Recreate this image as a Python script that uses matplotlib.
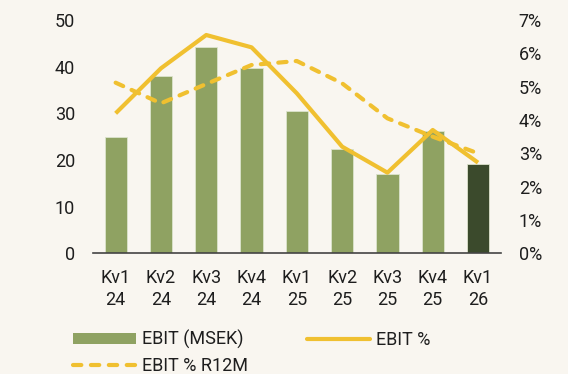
import matplotlib.pyplot as plt
from matplotlib.lines import Line2D
from matplotlib.patches import Patch

plt.rcParams['font.family'] = ['Roboto', 'DejaVu Sans']

quarters = ["Kv1\n24", "Kv2\n24", "Kv3\n24", "Kv4\n24", "Kv1\n25",
            "Kv2\n25", "Kv3\n25", "Kv4\n25", "Kv1\n26"]
ebit_msek = [25.0, 38.1, 44.3, 39.8, 30.5, 22.4, 17.1, 26.3, 19.2]
ebit_pct = [4.2, 5.55, 6.55, 6.18, 4.8, 3.2, 2.42, 3.7, 2.72]
ebit_pct_r12m = [5.12, 4.5, 5.08, 5.65, 5.77, 5.1, 4.05, 3.5, 3.0]

bg = "#F9F6F0"
green = "#8FA262"
dark_green = "#3B4A2C"
yellow = "#F0C030"
text_col = "#1E1E1E"
fs = 13

fig = plt.figure(figsize=(5.68, 3.74), dpi=100, facecolor=bg)
ax = fig.add_axes([0.1637, 0.3227, 0.7178, 0.6238])
ax.set_facecolor(bg)

x = list(range(len(quarters)))
colors = [green] * (len(quarters) - 1) + [dark_green]
ax.bar(x, ebit_msek, width=0.49, color=colors, edgecolor="#DCE3CC", linewidth=0.6, zorder=2)
ax.set_ylim(0, 50)
ax.set_xlim(-0.5, len(quarters) - 0.5)
ax.set_yticks(range(0, 51, 10))
ax.set_xticks(x)
ax.set_xticklabels(quarters, linespacing=1.3)

ax2 = ax.twinx()
ax2.plot(x, ebit_pct, color=yellow, lw=3, solid_capstyle="butt", zorder=3)
ax2.plot(x, ebit_pct_r12m, color=yellow, lw=3, ls=(0, (2.0, 2.2)),
         dash_capstyle="round", zorder=3)
ax2.set_ylim(0, 7)
ax2.set_yticks(range(0, 8))
ax2.set_yticklabels([f"{v}%" for v in range(0, 8)])

for a in (ax, ax2):
    for s in ["top", "left", "right", "bottom"]:
        a.spines[s].set_visible(False)
    a.tick_params(length=0, labelsize=fs, colors=text_col)
ax.spines["bottom"].set_visible(True)
ax.spines["bottom"].set_color("#444444")
ax.spines["bottom"].set_linewidth(1.2)
ax.tick_params(axis="y", pad=13)
ax.tick_params(axis="x", pad=11)
ax2.tick_params(axis="y", pad=13)

handles = [Patch(facecolor=green, edgecolor="none"),
           Line2D([], [], color=yellow, lw=3, ls=(0, (2.0, 2.3)), dash_capstyle="round"),
           Line2D([], [], color=yellow, lw=3, solid_capstyle="round")]
labels = ["EBIT (MSEK)", "EBIT % R12M", "EBIT %"]
fig.legend(handles, labels, ncol=2, loc="upper left", bbox_to_anchor=(0.128, 0.118),
           bbox_transform=fig.transFigure, frameon=False, fontsize=fs,
           handlelength=3.5, handleheight=0.55, handletextpad=0.35,
           columnspacing=3.25, labelspacing=0.45, borderpad=0, borderaxespad=0,
           labelcolor=text_col)

fig.savefig("out.png", dpi=100, facecolor=bg)
